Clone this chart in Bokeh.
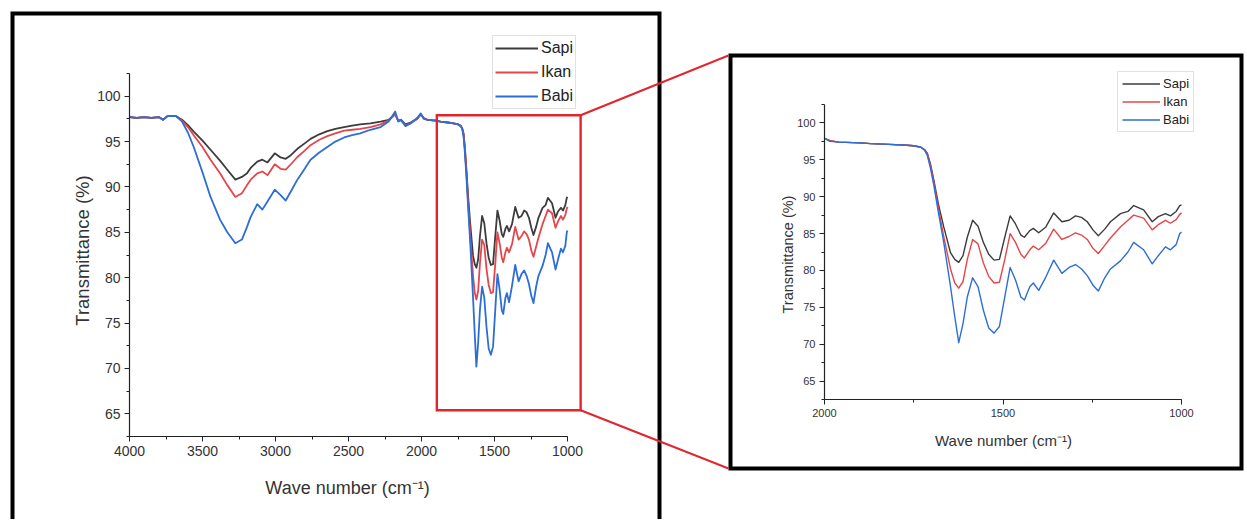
import math
from bokeh.plotting import figure
from bokeh.models import Range1d, SingleIntervalTicker, Legend, LegendItem, ColumnDataSource
from bokeh.core.properties import value
from bokeh.layouts import row
from bokeh.embed import file_html
from bokeh.resources import INLINE

# ---------------- data ----------------
WAVENUMBER = [4000, 3950, 3900, 3850, 3800, 3770, 3740, 3700, 3680, 3640,
              3600, 3560, 3500, 3445, 3380, 3330, 3275, 3230, 3195, 3170,
              3125, 3090, 3055, 3005, 2965, 2930, 2895, 2850, 2800, 2760,
              2700, 2645, 2590, 2530, 2475, 2420, 2350, 2280, 2225, 2180,
              2160, 2140, 2110, 2075, 2030, 2005, 1985, 1960, 1900, 1870,
              1820, 1780, 1750, 1730, 1720, 1712, 1703, 1694, 1680, 1666,
              1647, 1635, 1624, 1612, 1600, 1585, 1570, 1555, 1540, 1525,
              1510, 1495, 1480, 1465, 1450, 1440, 1425, 1415, 1400, 1380,
              1358, 1335, 1315, 1297, 1280, 1264, 1248, 1233, 1215, 1199,
              1171, 1150, 1134, 1106, 1082, 1065, 1045, 1031, 1015, 1005, 1000]

SAPI = [97.7, 97.6, 97.7, 97.6, 97.7, 97.4, 97.8, 97.8, 97.8, 97.4,
        96.8, 96.1, 95.1, 94.1, 92.9, 91.9, 90.8, 91.1, 91.5, 92.1,
        92.8, 93.0, 92.7, 93.7, 93.25, 93.1, 93.5, 94.2, 94.8, 95.3,
        95.8, 96.15, 96.4, 96.6, 96.75, 96.9, 97.0, 97.2, 97.4, 98.0,
        97.3, 97.4, 96.9, 97.1, 97.5, 98.0, 97.6, 97.4, 97.3, 97.2,
        97.1, 97.0, 96.9, 96.7, 96.4, 95.9, 94.4, 92.3, 88.8, 85.9,
        82.4, 81.5, 81.1, 82.0, 84.5, 86.8, 86.0, 83.8, 82.2, 81.4,
        81.5, 84.5, 87.4, 86.3, 84.8, 84.5, 85.4, 85.7, 85.1, 85.9,
        87.8, 86.6, 86.8, 87.4, 87.2, 86.6, 85.5, 84.7, 85.6, 86.6,
        87.7, 88.0, 88.8, 88.2, 86.6, 87.3, 87.7, 87.4, 88.0, 88.8, 88.9]

IKAN = [97.7, 97.6, 97.7, 97.6, 97.7, 97.4, 97.8, 97.8, 97.8, 97.3,
        96.6, 95.7, 94.4, 93.0, 91.5, 90.2, 88.9, 89.3, 90.2, 90.8,
        91.5, 91.7, 91.3, 92.5, 92.0, 91.9, 92.5, 93.3, 94.0, 94.6,
        95.2, 95.6, 95.9, 96.2, 96.3, 96.4, 96.6, 96.9, 97.3, 98.0,
        97.3, 97.3, 96.8, 97.0, 97.5, 98.0, 97.6, 97.4, 97.3, 97.2,
        97.1, 97.0, 96.9, 96.7, 96.4, 95.8, 94.2, 92.0, 88.2, 84.6,
        80.2, 78.3, 77.6, 78.5, 81.5, 84.2, 83.6, 81.0, 79.2, 78.3,
        78.4, 81.5, 85.0, 83.8, 82.2, 81.7, 82.8, 83.3, 82.8, 83.7,
        85.6, 84.2, 84.6, 85.1, 84.8, 84.2, 83.0, 82.3, 83.4, 84.4,
        85.9, 86.8, 87.5, 87.1, 85.5, 86.2, 86.8, 86.4, 86.9, 87.6, 87.8]

BABI = [97.7, 97.6, 97.7, 97.6, 97.7, 97.4, 97.8, 97.8, 97.8, 97.2,
        96.0, 94.4, 91.6, 88.9, 86.4, 85.0, 83.8, 84.2, 85.6, 86.7,
        88.1, 87.5, 88.4, 89.7, 89.1, 88.5, 89.5, 90.8, 92.0, 93.0,
        93.8, 94.4, 95.0, 95.45, 95.7, 95.9, 96.3, 96.6, 97.2, 98.3,
        97.2, 97.4, 96.7, 97.0, 97.6, 98.1, 97.5, 97.4, 97.3, 97.2,
        97.1, 97.0, 96.9, 96.7, 96.3, 95.6, 93.8, 91.6, 87.6, 83.8,
        77.8, 73.7, 70.2, 72.8, 76.4, 79.0, 77.8, 74.6, 72.2, 71.5,
        72.4, 76.4, 80.4, 78.7, 76.4, 76.0, 77.8, 78.3, 77.3, 79.1,
        81.4, 79.6, 80.4, 80.8, 80.2, 79.3, 78.0, 77.2, 79.0, 80.2,
        81.3, 82.5, 83.8, 82.8, 80.9, 82.0, 83.2, 82.8, 83.5, 85.0, 85.2]

SERIES_NAMES = ["Sapi", "Ikan", "Babi"]
SERIES_KEYS = ["sapi", "ikan", "babi"]
SERIES_COLORS = ["#3c3c3c", "#e4474b", "#2c6ed6"]

Y_LIMITS = (62.5, 102.5)
FULL_X = (4000, 1000)
ZOOM_X = (2000, 1000)
ZOOM_BOX_WN = (1895, 910)
ZOOM_BOX_T = (65.4, 97.9)
X_TITLE = "Wave number (cm\u207b\u00b9)"
Y_TITLE = "Transmittance (%)"
FONT = "Liberation Sans"

source = ColumnDataSource(dict(wn=WAVENUMBER, sapi=SAPI, ikan=IKAN, babi=BABI))

BORDER_TOP = 20
BORDER_BOTTOM = 83
PX = dict(x_range_name="px", y_range_name="py")


def build_panel(x_limits, axis_px, frame_px, offset, canvas_w, tick_size, title_sizes,
                lw, legend_cfg, title_pos):
    (x0p, x1p), (ytp, ybp) = axis_px
    fl, ft, fr, fb = frame_px

    def xv(px):
        return x_limits[0] + (px - x0p) * (x_limits[1] - x_limits[0]) / (x1p - x0p)

    def yv(py):
        return Y_LIMITS[1] + (py - ytp) * (Y_LIMITS[0] - Y_LIMITS[1]) / (ybp - ytp)

    p = figure(x_range=Range1d(xv(fl), xv(fr)), y_range=Range1d(yv(fb), yv(ft)),
               frame_width=fr - fl, frame_height=fb - ft,
               min_border_left=fl - offset, min_border_top=BORDER_TOP,
               min_border_right=canvas_w - (fr - offset), min_border_bottom=BORDER_BOTTOM,
               output_backend="svg", toolbar_location=None, tools="")
    # page-pixel coordinate system for decorations (frames, connectors, titles)
    p.extra_x_ranges = {"px": Range1d(fl, fr)}
    p.extra_y_ranges = {"py": Range1d(fb, ft)}
    p.grid.visible = False
    p.outline_line_color = None
    p.background_fill_color = "white"
    p.border_fill_color = "white"

    p.xaxis.ticker = SingleIntervalTicker(interval=500, num_minor_ticks=2)
    p.yaxis.ticker = SingleIntervalTicker(interval=5, num_minor_ticks=2)
    p.xaxis.bounds = (min(x_limits), max(x_limits))
    p.yaxis.bounds = Y_LIMITS
    for ax in (p.xaxis[0], p.yaxis[0]):
        ax.axis_line_color = "#222222"
        ax.axis_line_width = 1.2
        ax.major_tick_line_color = "#222222"
        ax.minor_tick_line_color = "#222222"
        ax.major_tick_in = 0
        ax.major_tick_out = 5
        ax.minor_tick_in = 0
        ax.minor_tick_out = 3
        ax.major_label_text_font = FONT
        ax.major_label_text_font_size = f"{tick_size}px"
        ax.major_label_text_color = "#333333"
        ax.major_label_standoff = 4

    renderers = []
    for key, color in zip(SERIES_KEYS, SERIES_COLORS):
        r = p.line("wn", key, source=source, line_color=color, line_width=lw,
                   line_join="round")
        renderers.append(r)

    lx, lb = legend_cfg["pos"]  # page px of legend box left / bottom
    items = [LegendItem(label=n, renderers=[r]) for n, r in zip(SERIES_NAMES, renderers)]
    lg = Legend(items=items, location=(lx - fl, fb - lb),
                label_text_font=FONT,
                label_text_font_size=f"{legend_cfg['font']}px",
                label_text_color="#222222",
                glyph_width=legend_cfg["gw"], glyph_height=legend_cfg["gh"],
                label_height=legend_cfg["gh"], label_standoff=3,
                spacing=legend_cfg["sp"], padding=legend_cfg["pad"], margin=0,
                border_line_color="#c4c4c4", border_line_width=1,
                background_fill_color="white", background_fill_alpha=1.0)
    p.add_layout(lg)

    # axis titles, centred on the drawn axis extent
    (xtx, xty), (ytx, yty) = title_pos
    p.text(x=[xtx], y=[xty], text=[X_TITLE], text_font=value(FONT),
           text_font_size=f"{title_sizes[0]}px", text_color="#333333",
           text_align="center", text_baseline="middle", level="overlay", **PX)
    p.text(x=[ytx], y=[yty], text=[Y_TITLE], text_font=value(FONT),
           text_font_size=f"{title_sizes[1]}px", text_color="#333333", angle=math.pi / 2,
           text_align="center", text_baseline="middle", level="overlay", **PX)
    return p


# ---------------- left (overview) panel: page x 0..720 ----------------
L_AXIS = ((129, 567), (73, 436))
L_FRAME = (129, BORDER_TOP, 655, 436)
left = build_panel(FULL_X, L_AXIS, L_FRAME, 0, 720, 14, (18, 18.5), 1.8,
                   dict(pos=(492, 109), font=16, gw=43, gh=20, sp=4, pad=2),
                   ((347, 487), (82, 250)))

# ---------------- right (zoom) panel: page x 720..1246 ----------------
R_AXIS = ((824, 1181), (104, 399))
R_FRAME = (824, BORDER_TOP, 1236, 399)
right = build_panel(ZOOM_X, R_AXIS, R_FRAME, 720, 526, 11, (15, 14.5), 1.4,
                    dict(pos=(1117, 132), font=13, gw=38, gh=15, sp=3, pad=4),
                    ((1003, 440), (787, 254)))


def to_page(wn, t):
    (x0p, x1p), (ytp, ybp) = L_AXIS
    px = x0p + (wn - FULL_X[0]) / (FULL_X[1] - FULL_X[0]) * (x1p - x0p)
    py = ytp + (t - Y_LIMITS[1]) / (Y_LIMITS[0] - Y_LIMITS[1]) * (ybp - ytp)
    return px, py


RED = "#e0262c"

# black frame of the left panel (its bottom edge lies below the page)
left.line(x=[12, 12, 659, 659], y=[540, 13, 13, 540], line_color="black", line_width=4,
          line_join="miter", level="overlay", **PX)

# red zoom box
left.quad(left=ZOOM_BOX_WN[0], right=ZOOM_BOX_WN[1], bottom=ZOOM_BOX_T[0], top=ZOOM_BOX_T[1],
          fill_color=None, line_color=RED, line_width=2.4, line_join="miter", level="overlay")

# black frame of the right panel
R_BOX = (730, 55, 1241, 468)
right.quad(left=R_BOX[0], right=R_BOX[2], top=R_BOX[1], bottom=R_BOX[3],
           fill_color=None, line_color="black", line_width=4, line_join="miter",
           level="overlay", **PX)

# connector lines from the zoom box to the right panel (drawn in both canvases)
c_top = to_page(ZOOM_BOX_WN[1], ZOOM_BOX_T[1])
c_bot = to_page(ZOOM_BOX_WN[1], ZOOM_BOX_T[0])
ends = [(R_BOX[0] - 2, R_BOX[1]), (R_BOX[0] - 2, R_BOX[3])]
for fig in (left, right):
    fig.segment(x0=[c_top[0], c_bot[0]], y0=[c_top[1], c_bot[1]],
                x1=[ends[0][0], ends[1][0]], y1=[ends[0][1], ends[1][1]],
                line_color=RED, line_width=2.2, level="overlay", **PX)

layout = row(left, right, spacing=0)
open("out.html", "w").write(file_html(layout, INLINE))
